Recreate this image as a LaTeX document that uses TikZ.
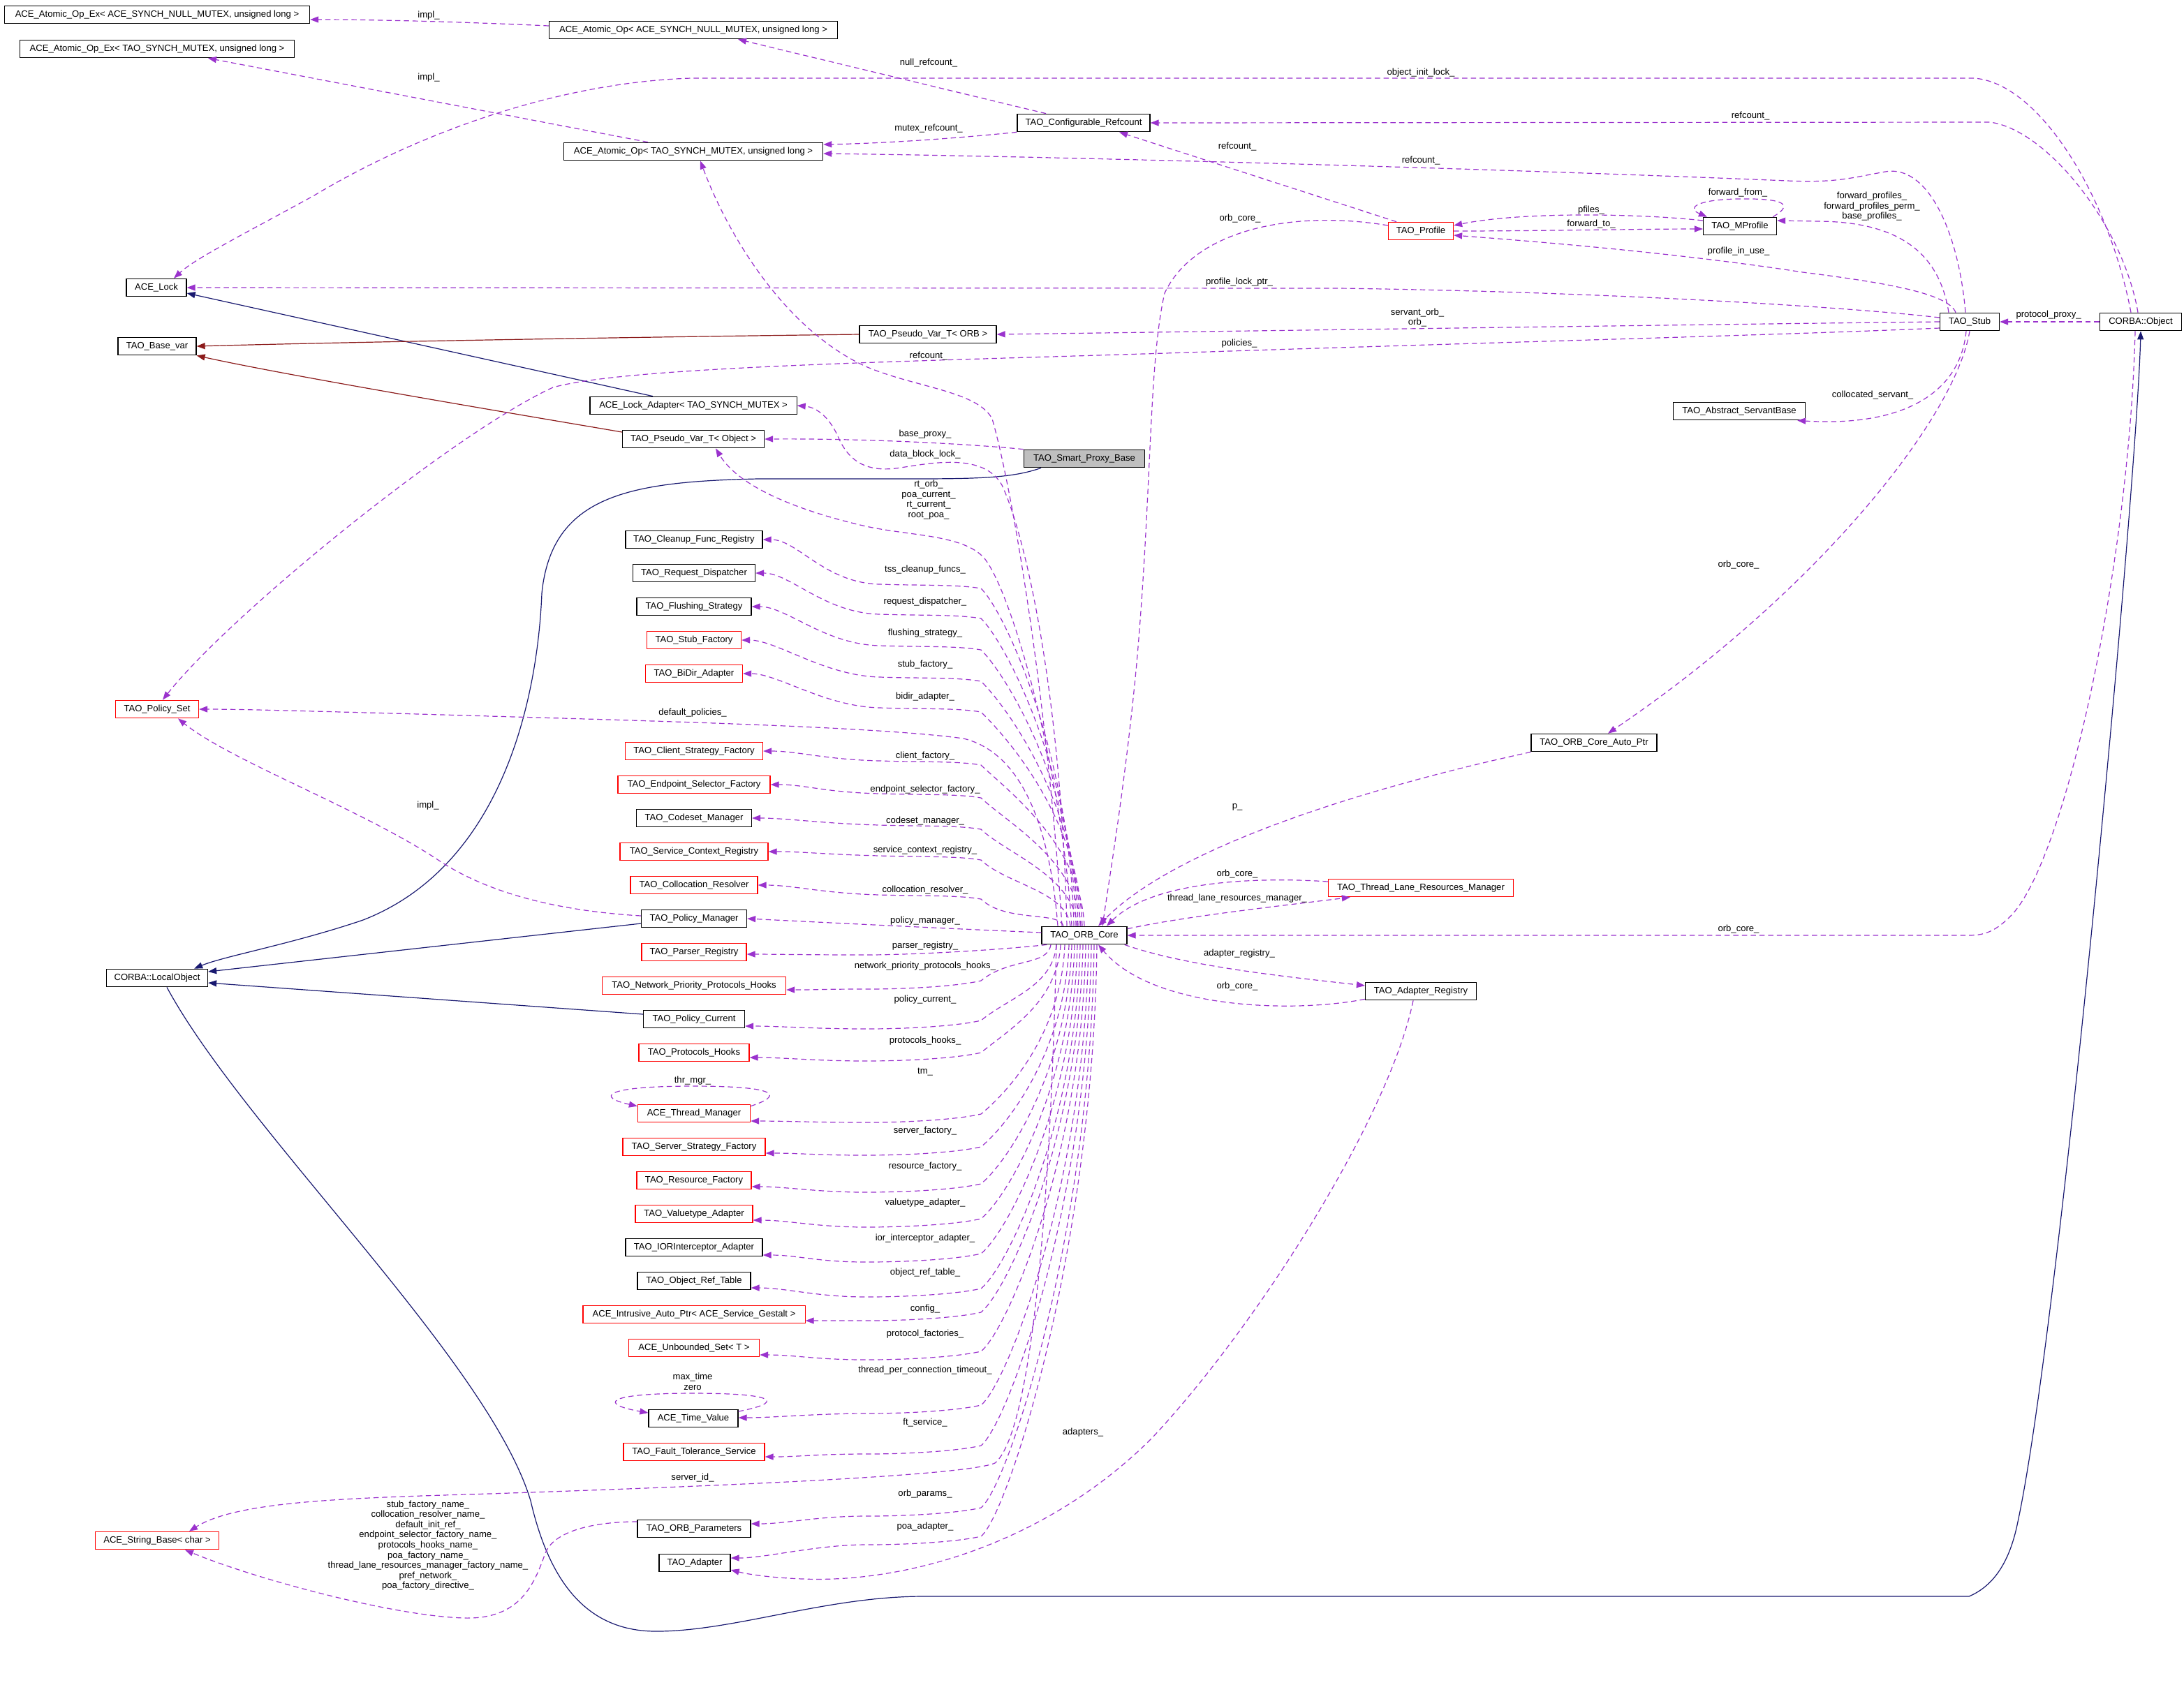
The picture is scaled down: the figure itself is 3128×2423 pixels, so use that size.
\documentclass[tikz,border=0pt]{standalone}
\usepackage{fontspec}
\setmainfont{Liberation Sans}
\usetikzlibrary{arrows.meta,calc}
\definecolor{purp}{HTML}{9A32CD}
\definecolor{navyb}{HTML}{191970}
\definecolor{fbrick}{HTML}{8B1A1A}
\definecolor{grayfill}{HTML}{BFBFBF}
\newcommand\dfont{\fontsize{3.72pt}{4.15pt}\selectfont}
\newcommand\colup[3]{\draw[mem] ($(core.north)+(#2,0)$) .. controls (1548+#2,{(1328+#3)/2}) and (1440,#3+40) .. (1405,#3+6) .. controls (1370,#3) and (1320,#3+2) .. (1260,#3) .. controls (1180,#3-2) and ($(#1.east)+(50,0)$) .. (#1.east);}
\newcommand\coldown[4]{\draw[mem] ($(core.south)+(#2,0)$) .. controls (1548+#2,{(1352+#3)/2}) and (1445,#3-45) .. (1405,#3-12) .. controls (1370,#3-4) and (1300,#3) .. (1240,#3) .. controls (1170,#3) and ($(#1.east)+(50,#4)$) .. ($(#1.east)+(0,#4)$);}
\begin{document}
\begin{tikzpicture}[x=0.01cm,y=-0.01cm,
 box/.style={draw=black,line width=0.012cm,fill=white,inner xsep=0,inner ysep=0,minimum height=0.255cm,font=\dfont},
 rbox/.style={box,draw=red},
 lbl/.style={font=\dfont,inner sep=0,align=center},
 mem/.style={draw=purp,line width=0.012cm,dash pattern=on 0.075cm off 0.05cm,-{Triangle[length=0.12cm,width=0.09cm]}},
 inh/.style={draw=navyb,line width=0.012cm,-{Triangle[length=0.12cm,width=0.09cm]}},
 pinh/.style={draw=fbrick,line width=0.012cm,-{Triangle[length=0.12cm,width=0.09cm]}}]
\useasboundingbox (0,0) rectangle (3128,2423);

% ---------------- nodes ----------------
\node[box,minimum width=4.37cm] (aopexN) at (225,21) {ACE\_Atomic\_Op\_Ex< ACE\_SYNCH\_NULL\_MUTEX, unsigned long >};
\node[box,minimum width=3.92cm] (aopexT) at (225,70) {ACE\_Atomic\_Op\_Ex< TAO\_SYNCH\_MUTEX, unsigned long >};
\node[box,minimum width=4.13cm] (aopN) at (993,43) {ACE\_Atomic\_Op< ACE\_SYNCH\_NULL\_MUTEX, unsigned long >};
\node[box,minimum width=3.71cm] (aopT) at (993,217) {ACE\_Atomic\_Op< TAO\_SYNCH\_MUTEX, unsigned long >};
\node[box,minimum width=1.90cm] (cref) at (1552,176) {TAO\_Configurable\_Refcount};
\node[box,minimum width=0.86cm] (lock) at (224,412) {ACE\_Lock};
\node[box,minimum width=1.12cm] (basevar) at (225,496) {TAO\_Base\_var};
\node[box,minimum width=1.96cm] (pvorb) at (1329,479) {TAO\_Pseudo\_Var\_T< ORB >};
\node[box,minimum width=2.96cm] (lockad) at (993,581) {ACE\_Lock\_Adapter< TAO\_SYNCH\_MUTEX >};
\node[box,minimum width=2.03cm] (pvobj) at (993,629) {TAO\_Pseudo\_Var\_T< Object >};
\node[box,fill=grayfill,minimum width=1.73cm] (smart) at (1553,657) {TAO\_Smart\_Proxy\_Base};
\node[rbox,minimum width=0.93cm] (profile) at (2035,331) {TAO\_Profile};
\node[box,minimum width=1.05cm] (mprofile) at (2492,324) {TAO\_MProfile};
\node[box,minimum width=0.85cm] (stub) at (2821,461) {TAO\_Stub};
\node[box,minimum width=1.17cm] (cobj) at (3066,461) {CORBA::Object};
\node[box,minimum width=1.89cm] (asb) at (2491,589) {TAO\_Abstract\_ServantBase};
\node[box,minimum width=1.96cm] (cleanup) at (994,773) {TAO\_Cleanup\_Func\_Registry};
\node[box,minimum width=1.75cm] (reqd) at (994,821) {TAO\_Request\_Dispatcher};
\node[box,minimum width=1.64cm] (flush) at (994,869) {TAO\_Flushing\_Strategy};
\node[rbox,minimum width=1.35cm] (stubf) at (994,917) {TAO\_Stub\_Factory};
\node[rbox,minimum width=1.39cm] (bidir) at (994,965) {TAO\_BiDir\_Adapter};
\node[rbox,minimum width=1.19cm] (pset) at (225,1016) {TAO\_Policy\_Set};
\node[rbox,minimum width=1.97cm] (csf) at (994,1076) {TAO\_Client\_Strategy\_Factory};
\node[rbox,minimum width=2.18cm] (esf) at (994,1124) {TAO\_Endpoint\_Selector\_Factory};
\node[box,minimum width=1.65cm] (codeset) at (994,1172) {TAO\_Codeset\_Manager};
\node[rbox,minimum width=2.12cm] (scr) at (994,1220) {TAO\_Service\_Context\_Registry};
\node[rbox,minimum width=1.82cm] (colres) at (994,1268) {TAO\_Collocation\_Resolver};
\node[box,minimum width=1.51cm] (pmgr) at (994,1316) {TAO\_Policy\_Manager};
\node[rbox,minimum width=1.50cm] (parser) at (994,1364) {TAO\_Parser\_Registry};
\node[rbox,minimum width=2.63cm] (nph) at (994,1412) {TAO\_Network\_Priority\_Protocols\_Hooks};
\node[box,minimum width=1.45cm] (pcur) at (994,1460) {TAO\_Policy\_Current};
\node[rbox,minimum width=1.58cm] (phooks) at (994,1508) {TAO\_Protocols\_Hooks};
\node[rbox,minimum width=1.61cm] (thrmgr) at (994,1595) {ACE\_Thread\_Manager};
\node[rbox,minimum width=2.04cm] (ssf) at (994,1643) {TAO\_Server\_Strategy\_Factory};
\node[rbox,minimum width=1.64cm] (resf) at (994,1691) {TAO\_Resource\_Factory};
\node[rbox,minimum width=1.68cm] (vta) at (994,1739) {TAO\_Valuetype\_Adapter};
\node[box,minimum width=1.96cm] (iora) at (994,1787) {TAO\_IORInterceptor\_Adapter};
\node[box,minimum width=1.62cm] (ort) at (994,1835) {TAO\_Object\_Ref\_Table};
\node[rbox,minimum width=3.18cm] (iap) at (994,1883) {ACE\_Intrusive\_Auto\_Ptr< ACE\_Service\_Gestalt >};
\node[rbox,minimum width=1.87cm] (uset) at (994,1931) {ACE\_Unbounded\_Set< T >};
\node[box,minimum width=1.28cm] (tv) at (993,2032) {ACE\_Time\_Value};
\node[rbox,minimum width=2.02cm] (fts) at (994,2080) {TAO\_Fault\_Tolerance\_Service};
\node[box,minimum width=1.62cm] (orbp) at (994,2190) {TAO\_ORB\_Parameters};
\node[box,minimum width=1.02cm] (adapter) at (995,2239) {TAO\_Adapter};
\node[rbox,minimum width=1.77cm] (strb) at (225,2207) {ACE\_String\_Base< char >};
\node[box,minimum width=1.45cm] (lobj) at (225,1401) {CORBA::LocalObject};
\node[box,minimum width=1.22cm] (core) at (1553,1340) {TAO\_ORB\_Core};
\node[box,minimum width=1.80cm] (autoptr) at (2283,1064) {TAO\_ORB\_Core\_Auto\_Ptr};
\node[rbox,minimum width=2.65cm] (tlrm) at (2035,1272) {TAO\_Thread\_Lane\_Resources\_Manager};
\node[box,minimum width=1.59cm] (areg) at (2035,1420) {TAO\_Adapter\_Registry};

% ---------------- inheritance ----------------
\draw[inh] ($(lockad.north)+(-58,0)$) -- ($(lock.east)+(0,8)$);
\draw[pinh] (pvorb.west) .. controls (900,483) and (500,490) .. (basevar.east);
\draw[pinh] ($(pvobj.west)+(0,-10)$) .. controls (780,600) and (420,540) .. (basevar.south east);
\draw[inh] ($(smart.south)+(-62,0)$) .. controls (1450,685) and (1400,686) .. (1300,686) -- (1085,686) .. controls (900,690) and (790,710) .. (776,850) .. controls (770,1000) and (720,1240) .. (520,1318) .. controls (420,1352) and (320,1370) .. ($(lobj.north east)+(-20,0)$);
\draw[inh] ($(pmgr.west)+(0,7)$) -- ($(lobj.east)+(0,-9)$);
\draw[inh] ($(pcur.west)+(0,-7)$) -- ($(lobj.east)+(0,7)$);
\draw[inh] ($(lobj.south)+(14,0)$) .. controls (350,1620) and (700,1950) .. (760,2150) .. controls (790,2280) and (850,2337) .. (940,2337) .. controls (1050,2337) and (1180,2288) .. (1318,2287) -- (2820,2287) .. controls (2860,2270) and (2880,2230) .. (2890,2180) .. controls (2950,1900) and (3060,700) .. (cobj.south);

% ---------------- top area ----------------
\draw[mem] ($(aopN.west)+(0,-6)$) .. controls (700,33) and (560,28) .. ($(aopexN.east)+(0,7)$);
\node[lbl] (la1) at (614,22) {impl\_};
\draw[mem] ($(aopT.north)+(-65,0)$) -- ($(aopexT.south)+(73,0)$);
\node[lbl] (la2) at (614,111) {impl\_};
\draw[mem] ($(cref.north)+(-54,0)$) -- ($(aopN.south)+(64,0)$);
\node[lbl] (la3) at (1330,90) {null\_refcount\_};
\draw[mem] (cref.south west) .. controls (1380,197) and (1280,205) .. ($(aopT.east)+(0,-10)$);
\node[lbl] (la4) at (1330,184) {mutex\_refcount\_};
\draw[mem] ($(stub.north)+(-6,0)$) .. controls (2805,330) and (2760,235) .. (2700,246) .. controls (2650,255) and (2630,262) .. (2560,259) .. controls (2100,240) and (1500,224) .. ($(aopT.east)+(0,3)$);
\node[lbl] (la5) at (2035,230) {refcount\_};
\draw[mem] ($(cobj.north)+(-4,0)$) .. controls (3040,320) and (2930,185) .. (2850,175) -- (cref.east);
\node[lbl] (la6) at (2507,166) {refcount\_};
\draw[mem] ($(cobj.north)+(-14,0)$) .. controls (3020,280) and (2920,118) .. (2827,112) -- (990,112) .. controls (800,118) and (600,190) .. (450,280) .. controls (350,335) and (280,370) .. ($(lock.north)+(25,0)$);
\node[lbl] (la7) at (2035,104) {object\_init\_lock\_};
\draw[mem] ($(profile.north)+(-35,0)$) -- ($(cref.south)+(51,0)$);
\node[lbl] (la8) at (1772,210) {refcount\_};

% ---------------- stub / profile area ----------------
\draw[mem] ($(stub.west)+(0,-6)$) .. controls (2650,440) and (2300,418) .. (1918,413) -- (lock.east);
\node[lbl] (lb1) at (1775,404) {profile\_lock\_ptr\_};
\draw[mem] (stub.west) .. controls (2500,464) and (1800,474) .. (pvorb.east);
\node[lbl] (lb2) at (2030,455) {servant\_orb\_\\orb\_};
\draw[mem] ($(stub.west)+(0,9)$) .. controls (2550,480) and (2150,490) .. (1700,505) .. controls (1300,518) and (900,525) .. (792,555) .. controls (650,620) and (330,880) .. ($(pset.north)+(8,0)$);
\node[lbl] (lb3) at (1775,492) {policies\_};
\draw[mem] ($(stub.north)+(-20,0)$) .. controls (2790,420) and (2700,405) .. (2582,390) .. controls (2400,362) and (2200,346) .. ($(profile.east)+(0,6)$);
\node[lbl] (lb4) at (2490,360) {profile\_in\_use\_};
\draw[mem] ($(mprofile.west)+(0,-8)$) .. controls (2350,306) and (2180,303) .. ($(profile.east)+(0,-8)$);
\node[lbl] (lb5) at (2279,301) {pfiles\_};
\draw[mem] (profile.east) .. controls (2200,331) and (2350,328) .. ($(mprofile.west)+(0,4)$);
\node[lbl] (lb6) at (2279,321) {forward\_to\_};
\draw[mem] ($(mprofile.north east)+(-6,0)$) .. controls (2575,290) and (2545,284) .. (2489,285) .. controls (2430,286) and (2415,298) .. ($(mprofile.north west)+(6,0)$);
\node[lbl] (lb7) at (2489,276) {forward\_from\_};
\draw[mem] ($(stub.north)+(-30,0)$) .. controls (2780,380) and (2740,318) .. (2605,317) -- ($(mprofile.east)+(0,-8)$);
\node[lbl] (lb8) at (2681,296) {forward\_profiles\_\\forward\_profiles\_perm\_\\base\_profiles\_};
\draw[mem] (cobj.west) -- (stub.east);
\node[lbl] (lb9) at (2934,451) {protocol\_proxy\_};
\draw[mem] ($(stub.south)+(-5,0)$) .. controls (2808,560) and (2730,612) .. ($(asb.south east)+(-12,0)$);
\node[lbl] (lb10) at (2682,566) {collocated\_servant\_};
\draw[mem] (stub.south) .. controls (2800,600) and (2600,850) .. ($(autoptr.north)+(20,0)$);
\node[lbl] (lb11) at (2490,809) {orb\_core\_};
\draw[mem] ($(profile.west)+(0,-8)$) .. controls (1850,300) and (1710,330) .. (1668,420) .. controls (1645,520) and (1650,700) .. (1628,950) .. controls (1612,1120) and (1590,1250) .. ($(core.north)+(26,0)$);
\node[lbl] (lb12) at (1776,313) {orb\_core\_};

% ---------------- right of ORB core ----------------
\draw[mem] (autoptr.south west) .. controls (1950,1130) and (1680,1215) .. ($(core.north)+(20,0)$);
\node[lbl] (lc1) at (1772,1156) {p\_};
\draw[mem] ($(cobj.south)+(-8,0)$) .. controls (3050,800) and (2960,1230) .. (2880,1312) .. controls (2860,1332) and (2845,1340) .. (2820,1340) -- (core.east);
\node[lbl] (lc2) at (2490,1331) {orb\_core\_};
\draw[mem] ($(tlrm.west)+(0,-9)$) .. controls (1800,1256) and (1650,1262) .. ($(core.north)+(32,0)$);
\node[lbl] (lc3) at (1772,1252) {orb\_core\_};
\draw[mem] ($(core.north east)+(0,4)$) .. controls (1700,1312) and (1850,1296) .. ($(tlrm.south west)+(32,0)$);
\node[lbl] (lc4) at (1772,1287) {thread\_lane\_resources\_manager\_};
\draw[mem] ($(core.south east)+(-4,0)$) .. controls (1700,1385) and (1850,1400) .. ($(areg.west)+(0,-8)$);
\node[lbl] (lc5) at (1775,1366) {adapter\_registry\_};
\draw[mem] ($(areg.south west)+(0,-2)$) .. controls (1850,1452) and (1650,1445) .. ($(core.south)+(20,0)$);
\node[lbl] (lc6) at (1772,1413) {orb\_core\_};
\draw[mem] ($(areg.south)+(-11,0)$) .. controls (1990,1600) and (1800,1900) .. (1650,2060) .. controls (1500,2210) and (1300,2268) .. (1150,2262) .. controls (1100,2260) and (1070,2255) .. ($(adapter.east)+(0,10)$);
\node[lbl] (lc7) at (1551,2052) {adapters\_};

% ---------------- near smart proxy ----------------
\draw[mem] (smart.north west) .. controls (1400,637) and (1250,628) .. (pvobj.east);
\node[lbl] (ld1) at (1325,622) {base\_proxy\_};
\draw[mem] ($(core.north)+(-25,0)$) .. controls (1520,1000) and (1470,770) .. (1435,695) .. controls (1410,650) and (1340,662) .. (1290,670) .. controls (1240,678) and (1215,660) .. (1200,625) .. controls (1185,592) and (1165,583) .. (lockad.east);
\node[lbl] (ld2) at (1325,651) {data\_block\_lock\_};
\draw[mem] ($(core.north)+(-18,0)$) .. controls (1520,1100) and (1450,850) .. (1410,800) .. controls (1380,765) and (1300,768) .. (1236,753) .. controls (1150,733) and (1060,700) .. ($(pvobj.south)+(32,0)$);
\node[lbl] (ld3) at (1330,716) {rt\_orb\_\\poa\_current\_\\rt\_current\_\\root\_poa\_};
\draw[mem] ($(core.north)+(-32,0)$) .. controls (1500,1000) and (1450,700) .. (1421,600) .. controls (1400,560) and (1310,555) .. (1240,525) .. controls (1120,470) and (1040,330) .. ($(aopT.south)+(10,0)$);
\node[lbl] (ld4) at (1330,510) {refcount\_};

% ---------------- column above ORB core ----------------
\colup{cleanup}{-15}{837}
\node[lbl] (le1) at (1325,816) {tss\_cleanup\_funcs\_};
\colup{reqd}{-12}{880}
\node[lbl] (le2) at (1325,862) {request\_dispatcher\_};
\colup{flush}{-9}{925}
\node[lbl] (le3) at (1325,907) {flushing\_strategy\_};
\colup{stubf}{-6}{970}
\node[lbl] (le4) at (1325,952) {stub\_factory\_};
\colup{bidir}{-3}{1014}
\node[lbl] (le5) at (1325,998) {bidir\_adapter\_};
\draw[mem] ($(core.north)+(-38,0)$) .. controls (1505,1200) and (1470,1080) .. (1380,1058) .. controls (1250,1040) and (900,1032) .. (600,1023) .. controls (450,1019) and (350,1016) .. (pset.east);
\node[lbl] (le6) at (992,1021) {default\_policies\_};
\colup{csf}{0}{1090}
\node[lbl] (le7) at (1325,1083) {client\_factory\_};
\colup{esf}{-5}{1137}
\node[lbl] (le8) at (1325,1131) {endpoint\_selector\_factory\_};
\colup{codeset}{-10}{1182}
\node[lbl] (le9) at (1325,1176) {codeset\_manager\_};
\colup{scr}{-20}{1226}
\node[lbl] (le10) at (1325,1218) {service\_context\_registry\_};
\colup{colres}{-30}{1282}
\node[lbl] (le11) at (1325,1275) {collocation\_resolver\_};
\draw[mem] ($(core.west)+(0,-4)$) .. controls (1350,1330) and (1150,1320) .. (pmgr.east);
\node[lbl] (le12) at (1325,1319) {policy\_manager\_};
\draw[mem] ($(pmgr.west)+(0,-4)$) .. controls (800,1305) and (700,1280) .. (629,1233) .. controls (520,1160) and (330,1090) .. ($(pset.south)+(30,0)$);
\node[lbl] (le13) at (613,1154) {impl\_};

% ---------------- column below ORB core ----------------
\draw[mem] ($(core.south west)+(8,0)$) .. controls (1420,1362) and (1300,1368) .. (1240,1368) .. controls (1160,1368) and (1110,1367) .. ($(parser.east)+(0,3)$);
\node[lbl] (lf1) at (1325,1355) {parser\_registry\_};
\coldown{nph}{-48}{1417}{6}
\node[lbl] (lf2) at (1325,1384) {network\_priority\_protocols\_hooks\_};
\coldown{pcur}{-40}{1474}{10}
\node[lbl] (lf3) at (1325,1432) {policy\_current\_};
\coldown{phooks}{-34}{1520}{7}
\node[lbl] (lf4) at (1325,1491) {protocols\_hooks\_};
\coldown{thrmgr}{-28}{1608}{11}
\node[lbl] (lf5) at (1325,1536) {tm\_};
\draw[mem] ($(thrmgr.north east)+(0,3)$) .. controls (1120,1570) and (1120,1556) .. (992,1556) .. controls (862,1556) and (855,1572) .. ($(thrmgr.north west)+(0,3)$);
\node[lbl] (lf6) at (992,1548) {thr\_mgr\_};
\coldown{ssf}{-22}{1655}{9}
\node[lbl] (lf7) at (1325,1620) {server\_factory\_};
\coldown{resf}{-18}{1708}{9}
\node[lbl] (lf8) at (1325,1671) {resource\_factory\_};
\coldown{vta}{-14}{1758}{9}
\node[lbl] (lf9) at (1325,1723) {valuetype\_adapter\_};
\coldown{iora}{-10}{1808}{11}
\node[lbl] (lf10) at (1325,1774) {ior\_interceptor\_adapter\_};
\coldown{ort}{-6}{1858}{10}
\node[lbl] (lf11) at (1325,1823) {object\_ref\_table\_};
\coldown{iap}{-2}{1892}{9}
\node[lbl] (lf12) at (1325,1875) {config\_};
\coldown{uset}{2}{1948}{10}
\node[lbl] (lf13) at (1325,1911) {protocol\_factories\_};
\coldown{tv}{6}{2025}{-1}
\node[lbl] (lf14) at (1325,1963) {thread\_per\_connection\_timeout\_};
\draw[mem] ($(tv.east)+(0,-10)$) .. controls (1120,2010) and (1120,1996) .. (992,1996) .. controls (862,1996) and (860,2012) .. ($(tv.west)+(0,-8)$);
\node[lbl] (lf15) at (992,1979) {max\_time\\zero};
\coldown{fts}{10}{2083}{7}
\node[lbl] (lf16) at (1325,2038) {ft\_service\_};
\coldown{orbp}{14}{2172}{-7}
\node[lbl] (lf17) at (1325,2140) {orb\_params\_};
\coldown{adapter}{18}{2213}{-7}
\node[lbl] (lf18) at (1325,2187) {poa\_adapter\_};
\draw[mem] ($(core.south)+(-40,0)$) .. controls (1505,1700) and (1480,2050) .. (1425,2096) .. controls (1380,2115) and (1000,2130) .. (700,2140) .. controls (500,2146) and (340,2150) .. ($(strb.north)+(46,0)$);
\node[lbl] (lf19) at (992,2117) {server\_id\_};
\draw[mem] ($(orbp.west)+(0,-10)$) .. controls (860,2180) and (795,2190) .. (781,2225) .. controls (765,2270) and (745,2320) .. (665,2318) .. controls (560,2315) and (360,2260) .. ($(strb.south)+(40,0)$);
\node[lbl] (lf20) at (613,2214) {stub\_factory\_name\_\\collocation\_resolver\_name\_\\default\_init\_ref\_\\endpoint\_selector\_factory\_name\_\\protocols\_hooks\_name\_\\poa\_factory\_name\_\\thread\_lane\_resources\_manager\_factory\_name\_\\pref\_network\_\\poa\_factory\_directive\_};
\end{tikzpicture}
\end{document}
